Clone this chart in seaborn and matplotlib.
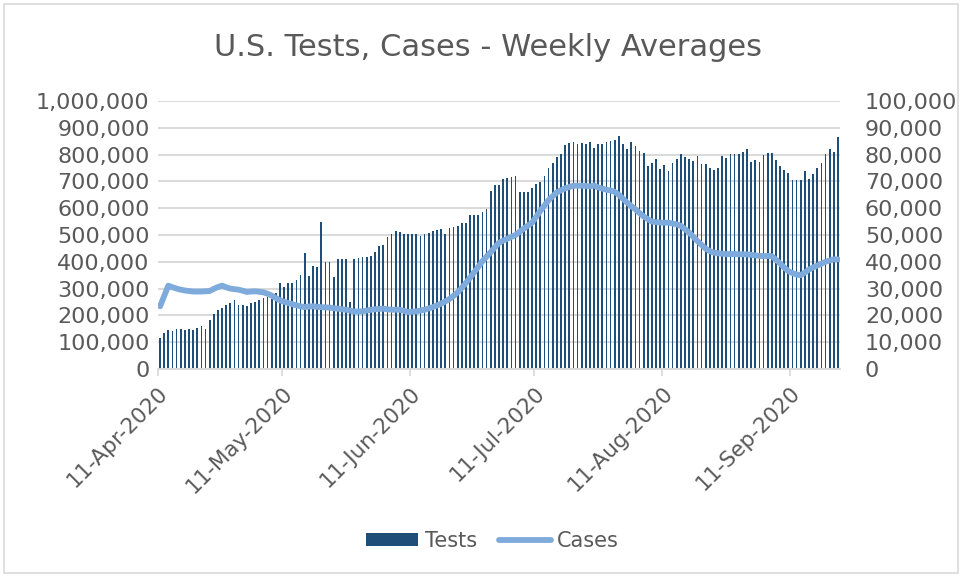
import numpy as np
import pandas as pd
import matplotlib
matplotlib.use("Agg")
import matplotlib.pyplot as plt
import seaborn as sns
from matplotlib.patches import Patch, Rectangle
from matplotlib.lines import Line2D
from matplotlib.ticker import FuncFormatter

# --- data ---
start_date = "2020-04-11"

tests_k = [
    115, 134, 146, 140, 149, 149, 146, 150, 146, 152,
    159, 150, 184, 205, 221, 229, 237, 246, 259, 240,
    240, 236, 246, 251, 259, 265, 269, 262, 283, 321,
    306, 321, 321, 333, 350, 434, 348, 383, 381, 550,
    400, 401, 343, 410, 411, 411, 250, 411, 414, 418,
    418, 422, 438, 460, 462, 494, 505, 515, 511, 505,
    504, 502, 504, 498, 502, 506, 514, 519, 523, 505,
    526, 530, 535, 545, 546, 573, 576, 576, 586, 598,
    664, 685, 686, 708, 711, 718, 719, 659, 661, 659,
    674, 689, 696, 721, 749, 769, 792, 802, 834, 842,
    846, 840, 844, 839, 846, 824, 840, 840, 846, 852,
    856, 869, 840, 820, 847, 831, 815, 806, 758, 770,
    785, 745, 760, 740, 770, 782, 804, 791, 785, 775,
    796, 765, 765, 750, 742, 750, 796, 788, 802, 801,
    803, 809, 820, 774, 780, 773, 800, 805, 805, 779,
    757, 741, 730, 707, 705, 705, 740, 710, 726, 750,
    769, 801, 822, 810, 864,
]

cases_k = [
    23.4, 27.3, 31.1, 30.5, 30.0, 29.6, 29.3, 29.1, 28.9, 28.9,
    28.9, 29.0, 29.1, 29.9, 30.6, 31.1, 30.5, 30.0, 29.8, 29.6,
    29.2, 28.75, 28.9, 29.0, 28.8, 28.6, 28.1, 27.4, 26.5, 25.6,
    25.1, 24.6, 24.2, 23.75, 23.4, 23.1, 23.3, 23.4, 23.2, 23.1,
    23.0, 22.9, 22.7, 22.5, 22.3, 22.1, 21.8, 21.4, 21.5, 21.5,
    21.8, 22.1, 22.3, 22.4, 22.5, 22.3, 22.1, 22.1, 22.1, 21.7,
    21.25, 21.4, 21.5, 21.8, 22.1, 22.6, 23.1, 23.7, 24.4, 25.2,
    26.1, 27.3, 28.6, 30.3, 32.1, 34.1, 36.1, 38.2, 40.25, 41.9,
    43.6, 45.4, 47.1, 47.9, 48.6, 49.3, 50.0, 51.2, 52.4, 53.5,
    54.6, 56.8, 59.0, 61.0, 63.0, 64.5, 65.9, 66.7, 67.4, 67.9,
    68.4, 68.4, 68.4, 68.3, 68.1, 68.5, 67.75, 67.3, 66.9, 66.6,
    66.1, 65.0, 63.5, 62.1, 60.8, 59.6, 58.2, 56.9, 55.9, 55.0,
    54.8, 54.6, 54.6, 54.6, 54.3, 54.0, 53.4, 52.2, 50.9, 49.3,
    47.75, 46.3, 44.9, 44.0, 43.4, 43.2, 43.0, 42.9, 42.9, 42.9,
    42.8, 42.8, 42.75, 42.6, 42.4, 42.2, 42.1, 42.2, 42.1, 40.8,
    39.4, 37.9, 36.5, 35.8, 35.25, 35.0, 36.0, 37.1, 37.9, 38.6,
    39.3, 40.0, 40.5, 40.9, 40.9,
]

dates = pd.date_range(start_date, periods=len(tests_k), freq="D")
df = pd.DataFrame({
    "day": np.arange(len(dates)),
    "Tests": np.array(tests_k) * 1000,
    "Cases": np.array(cases_k) * 1000,
})

BAR_COLOR = "#1F4E79"
LINE_COLOR = "#7FAADC"
TEXT_COLOR = "#595959"
GRID_COLOR = "#D9D9D9"

sns.set_theme(style="white")
plt.rcParams["font.family"] = ["DejaVu Sans"]

fig = plt.figure(figsize=(9.64, 5.76), dpi=100)
ax = fig.add_axes([158 / 964, 1 - 369 / 576, (840 - 158) / 964, (369 - 101) / 576])

sns.barplot(data=df, x="day", y="Tests", color=BAR_COLOR, saturation=1,
            width=0.42, linewidth=0, edgecolor="none", ax=ax, zorder=2)

ax2 = ax.twinx()
sns.lineplot(data=df, x="day", y="Cases", color=LINE_COLOR, linewidth=4.2,
             ax=ax2, zorder=3)

# axes limits and ticks
ax.set_xlim(-0.5, len(dates) - 0.5)
ax.set_ylim(0, 1_000_000)
ax2.set_ylim(0, 100_000)
ax.set_yticks(np.arange(0, 1_000_001, 100_000))
ax2.set_yticks(np.arange(0, 100_001, 10_000))
fmt = FuncFormatter(lambda v, p: f"{v:,.0f}")
ax.yaxis.set_major_formatter(fmt)
ax2.yaxis.set_major_formatter(fmt)

tick_idx = [i for i, d in enumerate(dates) if d.day == 11]
ax.set_xticks([i - 0.5 for i in tick_idx])
ax.set_xticklabels([dates[i].strftime("%d-%b-%Y") for i in tick_idx],
                   rotation=45, ha="right", rotation_mode="anchor")

ax.set_xlabel("")
ax.set_ylabel("")
ax2.set_ylabel("")

ax.yaxis.grid(True, color=GRID_COLOR, linewidth=1.4)
ax.xaxis.grid(False)
ax2.grid(False)
ax.set_axisbelow(True)

for a in (ax, ax2):
    for s in a.spines.values():
        s.set_visible(False)
ax.spines["bottom"].set_visible(True)
ax.spines["bottom"].set_color(GRID_COLOR)
ax.spines["bottom"].set_linewidth(1.4)

ax.tick_params(axis="x", length=5, width=1.2, color=GRID_COLOR, pad=5,
               labelsize=15.5, labelcolor=TEXT_COLOR, bottom=True)
ax.tick_params(axis="y", length=0, pad=6, labelsize=16, labelcolor=TEXT_COLOR)
ax2.tick_params(axis="y", length=0, pad=18, labelsize=16, labelcolor=TEXT_COLOR)

# title
fig.text(0.506, 1 - 48 / 576, "U.S. Tests, Cases - Weekly Averages",
         ha="center", va="center", fontsize=22, color=TEXT_COLOR)

# legend
handles = [Patch(facecolor=BAR_COLOR, edgecolor="none"),
           Line2D([0], [0], color=LINE_COLOR, linewidth=4.2,
                  solid_capstyle="round")]
fig.legend(handles, ["Tests", "Cases"], loc="center",
           bbox_to_anchor=(0.511, 1 - 541 / 576), ncol=2, frameon=False,
           fontsize=15, labelcolor=TEXT_COLOR, handlelength=2.5,
           handleheight=0.63, handletextpad=0.3, columnspacing=1.05)

# chart border
fig.patches.append(Rectangle((4 / 964, 3 / 576), 954 / 964, 569 / 576,
                             transform=fig.transFigure, fill=False,
                             edgecolor=GRID_COLOR, linewidth=1.2))

fig.savefig("out.png", dpi=100)
plt.close(fig)
